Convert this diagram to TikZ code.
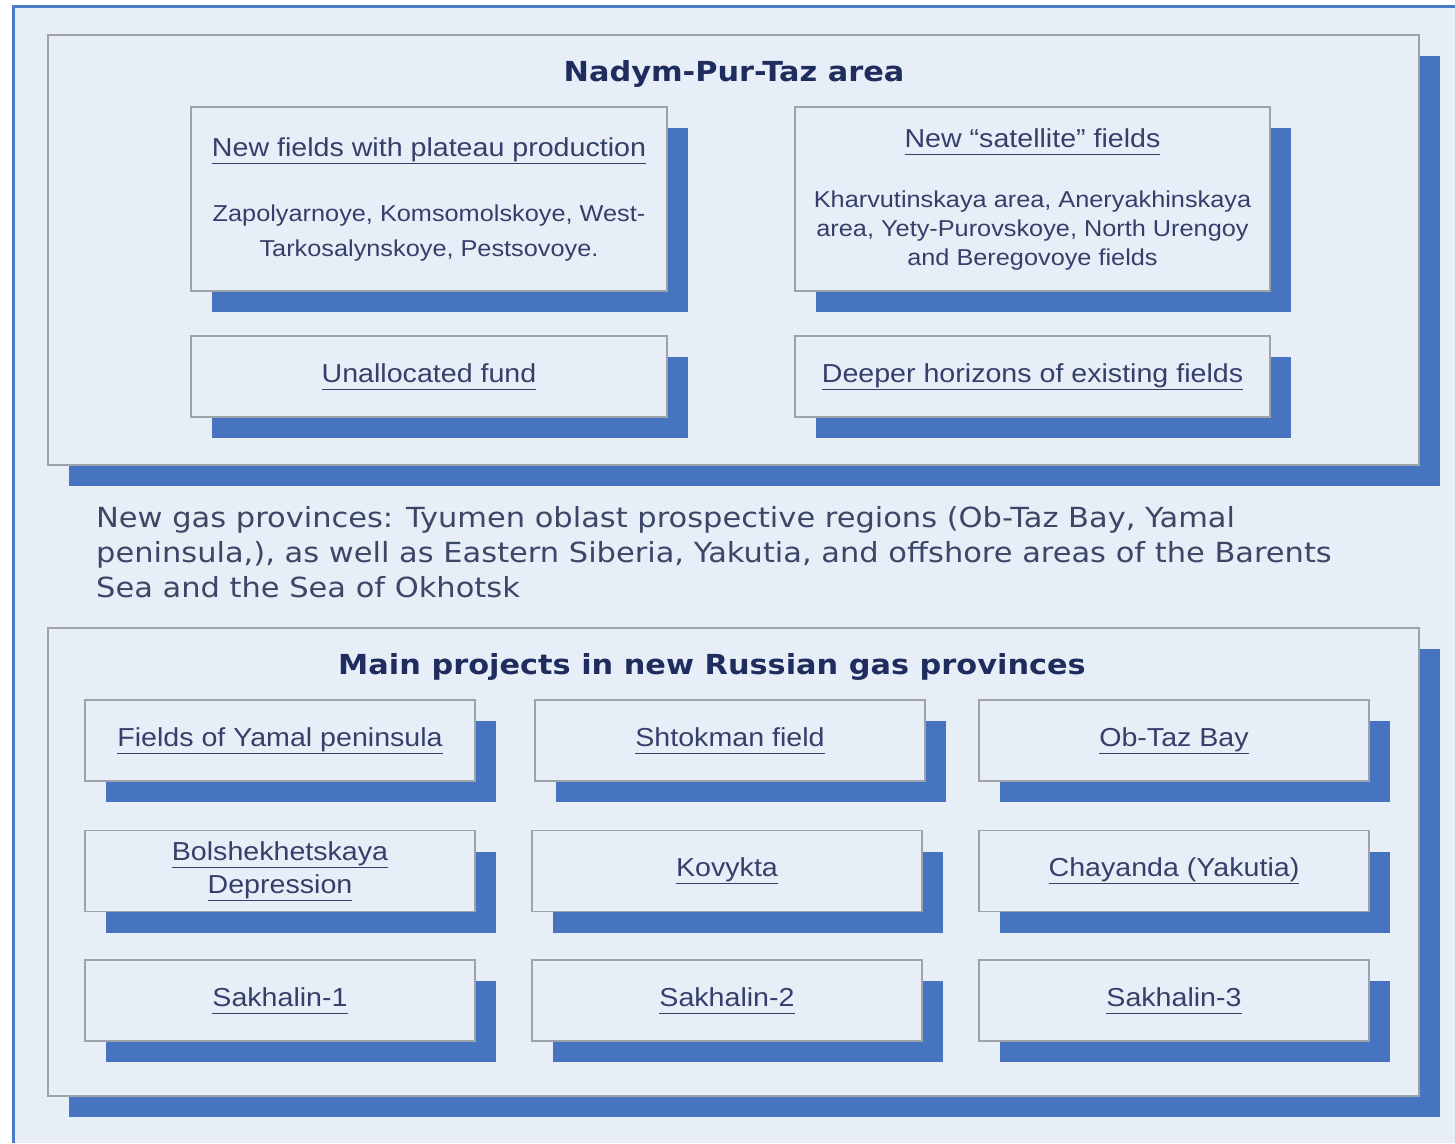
\documentclass[tikz,border=0pt]{standalone}
\usepackage{fontspec}
\setmainfont{Liberation Sans}[FakeStretch=1.1]
\newfontfamily\verd{DejaVu Sans}[FakeStretch=1.1]
\usetikzlibrary{shadows}

\definecolor{bgblue}{HTML}{E8EEF7}
\definecolor{shblue}{HTML}{4674C1}
\definecolor{frameblue}{HTML}{4A7CC8}
\definecolor{boxgray}{HTML}{9EA3AA}
\definecolor{txtnavy}{HTML}{34406A}
\definecolor{titlenavy}{HTML}{1F2D5E}
\definecolor{paranavy}{HTML}{3B4766}

\newcommand{\ulnk}[1]{\underline{#1\vphantom{p}}}

\begin{document}
\begin{tikzpicture}[x=1pt, y=-1pt]
	\tikzstyle{panel} = [draw=boxgray, line width=1.3pt, fill=bgblue, inner sep=0pt, drop shadow={shadow xshift=21pt, shadow yshift=-21pt, fill=shblue, opacity=1}]
	\tikzstyle{area} = [panel, minimum width=1371pt]
	\tikzstyle{field} = [panel, minimum width=390pt, minimum height=81pt, text=txtnavy, align=center, font=\fontsize{26}{33}\selectfont]
	\tikzstyle{head} = [text=titlenavy, font=\verd\bfseries\fontsize{27.6}{33}\selectfont]
	\useasboundingbox (0,0) rectangle (1455,1143);
	% page background
	\fill[white] (0,0) rectangle (1455,1143);
	\fill[bgblue] (13,6) rectangle (1455,1143);
	\draw[frameblue, line width=3pt] (13,1143) -- (13,6) -- (1455,6);

	% Nadym-Pur-Taz
	\begin{scope}
	\node[area, minimum height=430pt] (npt) at (733.5,250) {};
	\node[head] (npttitle) at (734,74) {Nadym-Pur-Taz area};
	\node[field, minimum width=476pt, minimum height=184pt, font=\fontsize{23}{35}\selectfont] (plateau) at (429,199)
		{{\fontsize{26}{30}\selectfont\ulnk{New fields with plateau production}}\\[30pt]
		Zapolyarnoye, Komsomolskoye, West-\\Tarkosalynskoye, Pestsovoye.};
	\node[field, minimum width=475pt, minimum height=184pt, font=\fontsize{23}{29}\selectfont] (satellite) at (1032.5,199)
		{{\fontsize{26}{30}\selectfont\ulnk{New ``satellite'' fields}}\\[31pt]
		Kharvutinskaya area, Aneryakhinskaya\\area, Yety-Purovskoye, North Urengoy\\and Beregovoye fields};
	\node[field, minimum width=476pt] (fund) at (429,376.5) {\ulnk{Unallocated fund}};
	\node[field, minimum width=475pt] (deeper) at (1032.5,376.5) {\ulnk{Deeper horizons of existing fields}};
	\end{scope}

	% text between the panels
	\node[anchor=north west, inner sep=0pt, align=left, text=paranavy, font=\verd\fontsize{27.7}{35}\selectfont] (provinces) at (96,506)
		{New gas provinces: Tyumen oblast prospective regions (Ob-Taz Bay, Yamal\\
		peninsula,), as well as Eastern Siberia, Yakutia, and offshore areas of the Barents\\
		Sea and the Sea of Okhotsk};

	% main projects
	\begin{scope}
	\node[area, minimum height=468pt] (main) at (733.5,862) {};
	\node[head] (maintitle) at (712,667) {Main projects in new Russian gas provinces};
	\node[field] (yamal) at (280,740.5) {\ulnk{Fields of Yamal peninsula}};
	\node[field] (shtokman) at (730,740.5) {\ulnk{Shtokman field}};
	\node[field] (obtaz) at (1174,740.5) {\ulnk{Ob-Taz Bay}};
	\node[field] (bolshe) at (280,871) {\ulnk{Bolshekhetskaya}\\\ulnk{Depression}};
	\node[field] (kovykta) at (727,871) {\ulnk{Kovykta}};
	\node[field] (chayanda) at (1174,871) {\ulnk{Chayanda (Yakutia)}};
	\node[field] (sakh1) at (280,1000.5) {\ulnk{Sakhalin-1}};
	\node[field] (sakh2) at (727,1000.5) {\ulnk{Sakhalin-2}};
	\node[field] (sakh3) at (1174,1000.5) {\ulnk{Sakhalin-3}};
	\end{scope}
\end{tikzpicture}
\end{document}
